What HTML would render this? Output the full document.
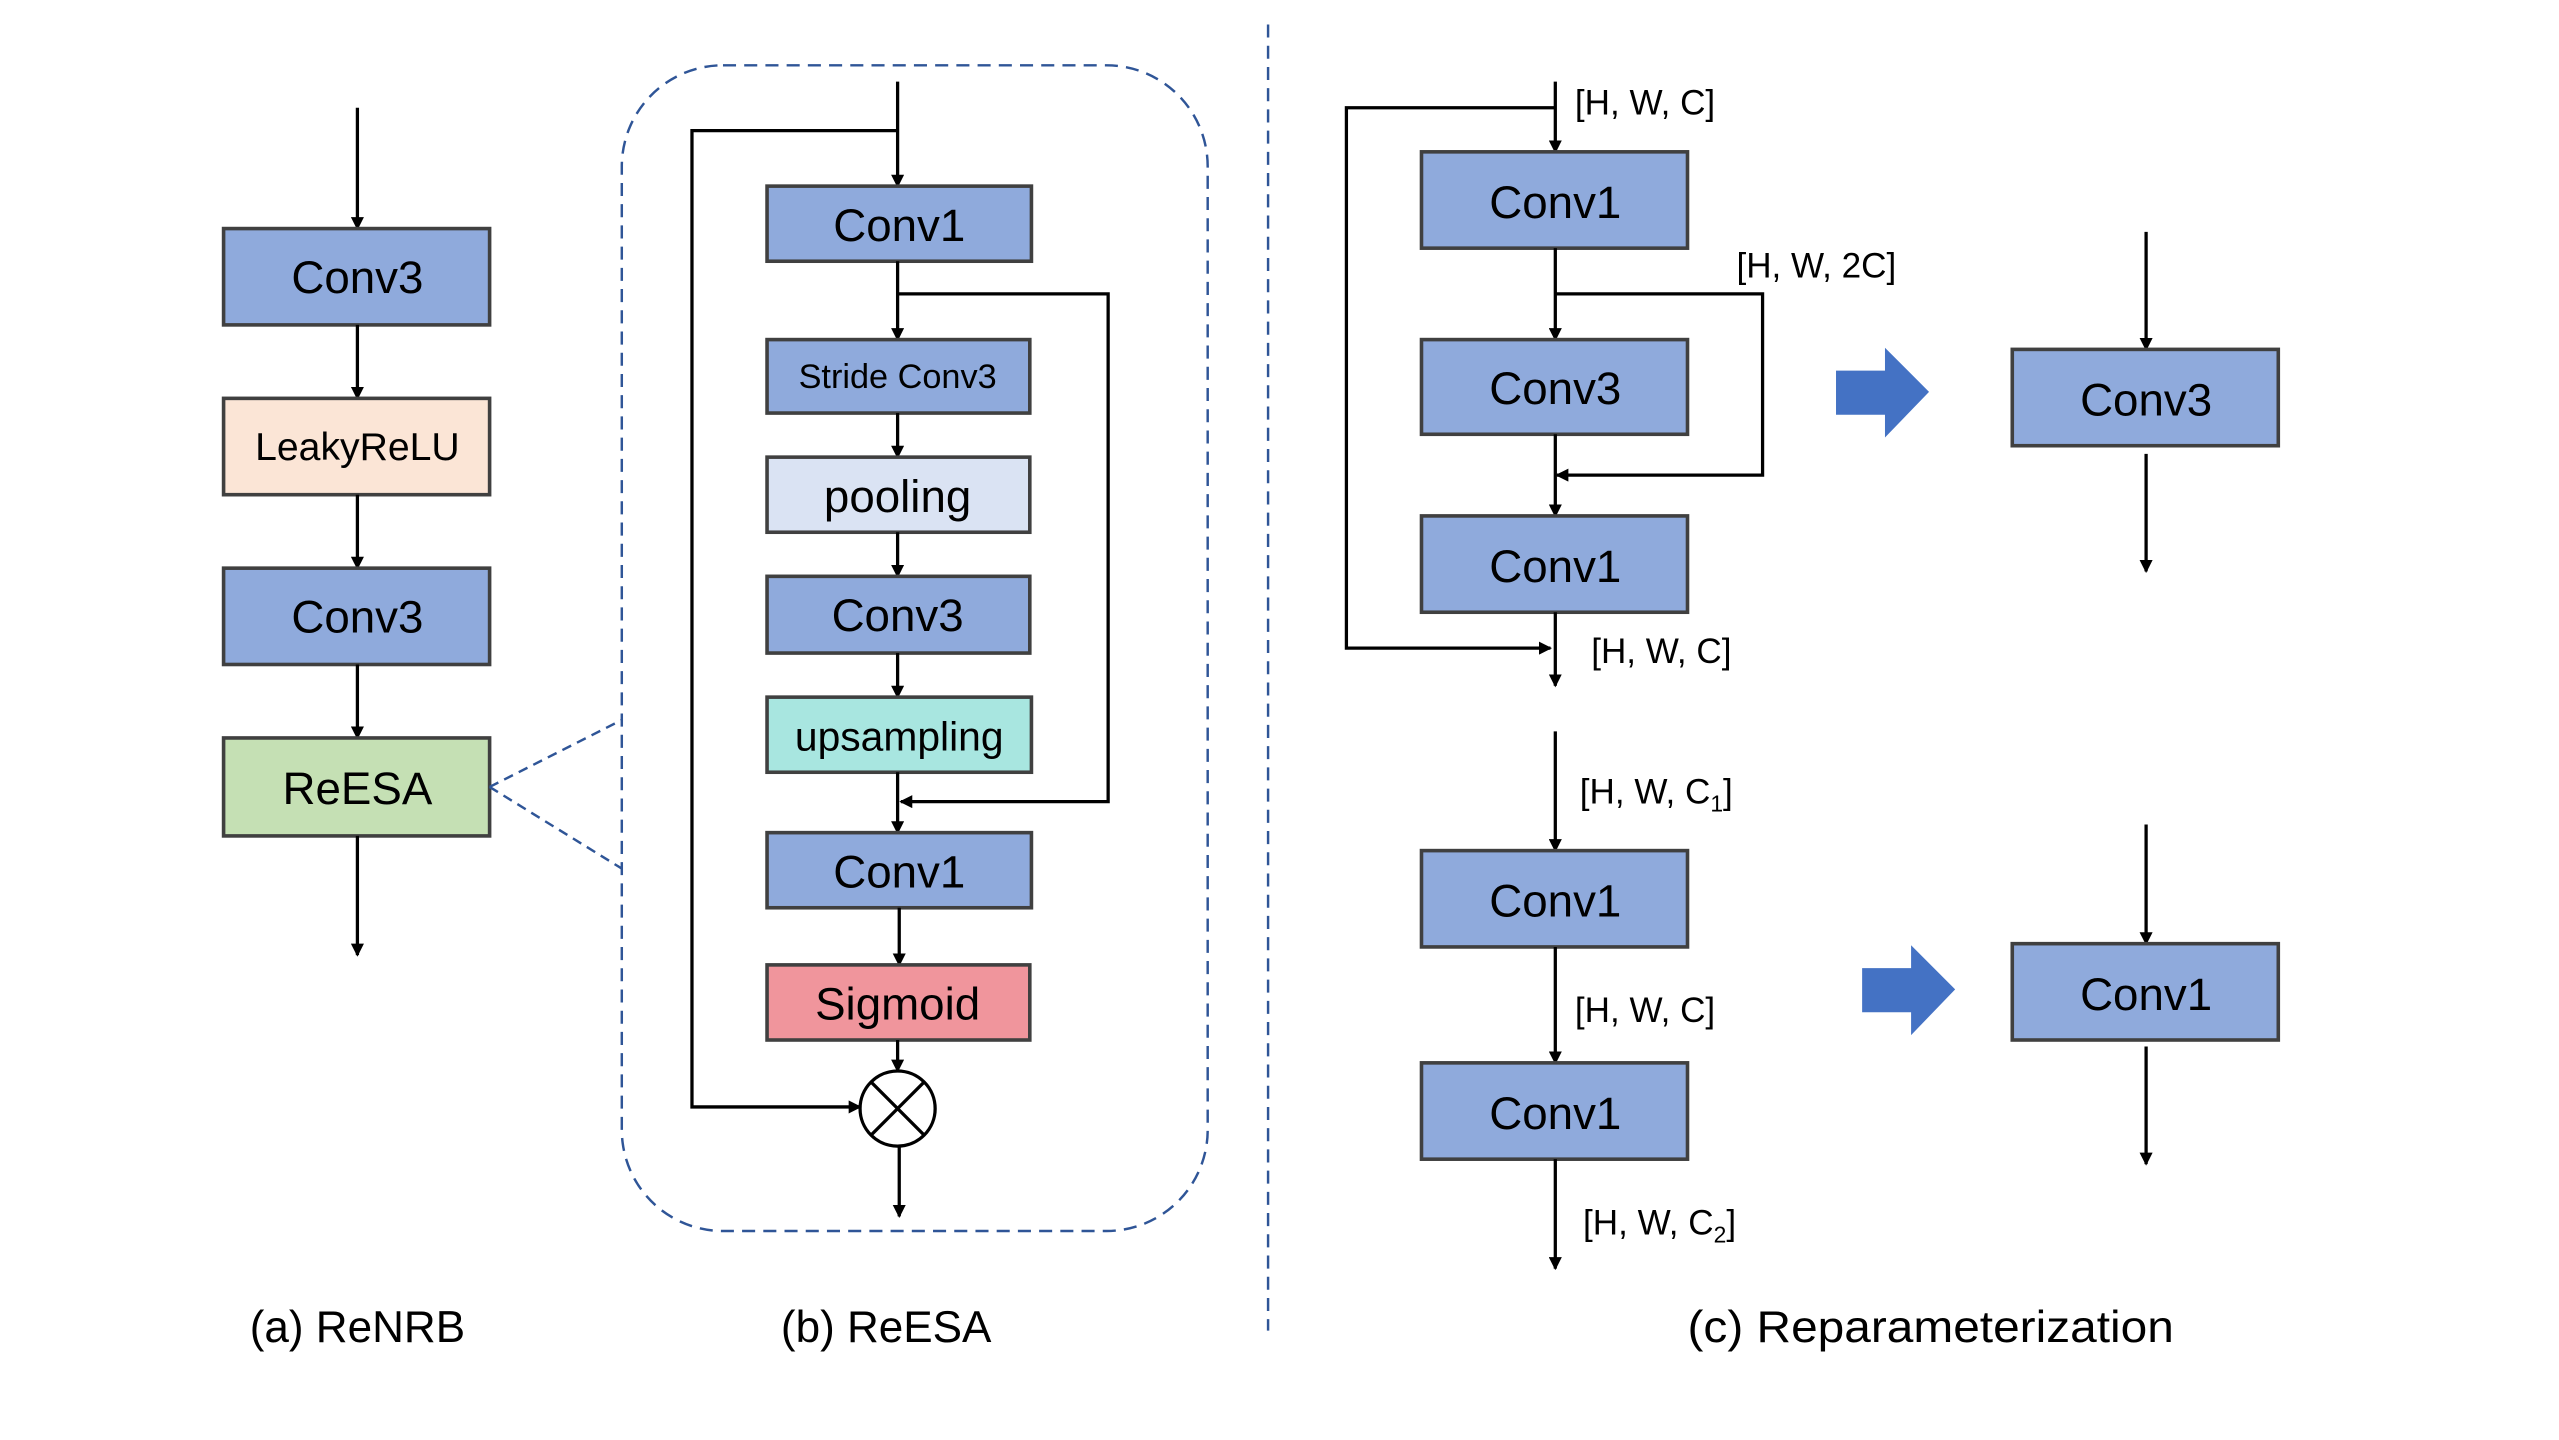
<!DOCTYPE html>
<html><head><meta charset="utf-8"><style>
html,body{margin:0;padding:0;background:#fff;}
svg{display:block;}
text{font-family:"Liberation Sans","DejaVu Sans",sans-serif;fill:#000;}
.b{stroke:#404040;stroke-width:2.2;}
.l{stroke:#000;stroke-width:2;fill:none;}
.t{font-size:28px;text-anchor:middle;dominant-baseline:central;}
.s{font-size:21.5px;}
.c{font-size:27px;text-anchor:middle;}
</style></head><body>
<svg width="2559" height="1440" viewBox="0 0 1568 882" preserveAspectRatio="none" xmlns="http://www.w3.org/2000/svg">
<defs><marker id="a" markerWidth="8" markerHeight="8" refX="7" refY="4" orient="auto" markerUnits="userSpaceOnUse"><path d="M0,0 L8,4 L0,8 z" fill="#000"/></marker></defs>
<!-- (a) -->
<line class="l" x1="219" y1="66" x2="219" y2="140" marker-end="url(#a)"/>
<rect class="b" x="137" y="140" width="163" height="59" fill="#8faadc"/><text class="t" x="219" y="170">Conv3</text>
<line class="l" x1="219" y1="199" x2="219" y2="244" marker-end="url(#a)"/>
<rect class="b" x="137" y="244" width="163" height="59" fill="#fbe5d6"/><text class="t" x="219" y="274" style="font-size:24px">LeakyReLU</text>
<line class="l" x1="219" y1="303" x2="219" y2="348" marker-end="url(#a)"/>
<rect class="b" x="137" y="348" width="163" height="59" fill="#8faadc"/><text class="t" x="219" y="378">Conv3</text>
<line class="l" x1="219" y1="407" x2="219" y2="452" marker-end="url(#a)"/>
<rect class="b" x="137" y="452" width="163" height="60" fill="#c5e0b4"/><text class="t" x="219" y="483">ReESA</text>
<line class="l" x1="219" y1="512" x2="219" y2="585" marker-end="url(#a)"/>
<text class="c" x="219" y="822">(a) ReNRB</text>
<!-- (b) -->
<rect x="381" y="40" width="359" height="714" rx="62" fill="none" stroke="#2f5597" stroke-width="1.5" stroke-dasharray="8,5"/>
<path d="M300,482 L381,441 M300,482 L381,532" stroke="#2f5597" stroke-width="1.5" stroke-dasharray="6,4" fill="none"/>
<line class="l" x1="550" y1="50" x2="550" y2="114" marker-end="url(#a)"/>
<path class="l" d="M550,80 L424,80 L424,678 L527,678" marker-end="url(#a)"/>
<rect class="b" x="470" y="114" width="162" height="46" fill="#8faadc"/><text class="t" x="551" y="138">Conv1</text>
<line class="l" x1="550" y1="160" x2="550" y2="208" marker-end="url(#a)"/>
<path class="l" d="M550,180 L679,180 L679,491 L552,491" marker-end="url(#a)"/>
<rect class="b" x="470" y="208" width="161" height="45" fill="#8faadc"/><text class="t" x="550" y="231" style="font-size:21px">Stride Conv3</text>
<line class="l" x1="550" y1="253" x2="550" y2="280" marker-end="url(#a)"/>
<rect class="b" x="470" y="280" width="161" height="46" fill="#dae3f3"/><text class="t" x="550" y="304">pooling</text>
<line class="l" x1="550" y1="326" x2="550" y2="353" marker-end="url(#a)"/>
<rect class="b" x="470" y="353" width="161" height="47" fill="#8faadc"/><text class="t" x="550" y="377">Conv3</text>
<line class="l" x1="550" y1="400" x2="550" y2="427" marker-end="url(#a)"/>
<rect class="b" x="470" y="427" width="162" height="46" fill="#a8e6e0"/><text class="t" x="551" y="451" style="font-size:25px">upsampling</text>
<line class="l" x1="550" y1="473" x2="550" y2="510" marker-end="url(#a)"/>
<rect class="b" x="470" y="510" width="162" height="46" fill="#8faadc"/><text class="t" x="551" y="534">Conv1</text>
<line class="l" x1="551" y1="556" x2="551" y2="591" marker-end="url(#a)"/>
<rect class="b" x="470" y="591" width="161" height="46" fill="#f0959c"/><text class="t" x="550" y="615">Sigmoid</text>
<line class="l" x1="550" y1="637" x2="550" y2="656" marker-end="url(#a)"/>
<circle cx="550" cy="679" r="23" fill="#fff" stroke="#000" stroke-width="2"/>
<path class="l" d="M534,663 L566,695 M566,663 L534,695"/>
<line class="l" x1="551" y1="702" x2="551" y2="745" marker-end="url(#a)"/>
<text class="c" x="543" y="822">(b) ReESA</text>
<!-- divider -->
<line x1="777" y1="15" x2="777" y2="815" stroke="#2f5597" stroke-width="1.5" stroke-dasharray="8,5"/>
<!-- (c) top -->
<line class="l" x1="953" y1="50" x2="953" y2="93" marker-end="url(#a)"/>
<path class="l" d="M953,66 L825,66 L825,397 L950,397" marker-end="url(#a)"/>
<text class="s" x="965" y="70">[H, W, C]</text>
<rect class="b" x="871" y="93" width="163" height="59" fill="#8faadc"/><text class="t" x="953" y="124">Conv1</text>
<line class="l" x1="953" y1="152" x2="953" y2="208" marker-end="url(#a)"/>
<path class="l" d="M953,180 L1080,180 L1080,291 L954,291" marker-end="url(#a)"/>
<text class="s" x="1064" y="170">[H, W, 2C]</text>
<rect class="b" x="871" y="208" width="163" height="58" fill="#8faadc"/><text class="t" x="953" y="238">Conv3</text>
<line class="l" x1="953" y1="266" x2="953" y2="316" marker-end="url(#a)"/>
<rect class="b" x="871" y="316" width="163" height="59" fill="#8faadc"/><text class="t" x="953" y="347">Conv1</text>
<line class="l" x1="953" y1="375" x2="953" y2="420" marker-end="url(#a)"/>
<text class="s" x="975" y="406">[H, W, C]</text>
<path d="M1125,227 L1155,227 L1155,213 L1182,240 L1155,268 L1155,254 L1125,254 z" fill="#4472c4"/>
<line class="l" x1="1315" y1="142" x2="1315" y2="214" marker-end="url(#a)"/>
<rect class="b" x="1233" y="214" width="163" height="59" fill="#8faadc"/><text class="t" x="1315" y="245">Conv3</text>
<line class="l" x1="1315" y1="278" x2="1315" y2="350" marker-end="url(#a)"/>
<!-- (c) bottom -->
<line class="l" x1="953" y1="448" x2="953" y2="521" marker-end="url(#a)"/>
<text class="s" x="968" y="492">[H, W, C<tspan dy="5" font-size="14">1</tspan><tspan dy="-5">]</tspan></text>
<rect class="b" x="871" y="521" width="163" height="59" fill="#8faadc"/><text class="t" x="953" y="552">Conv1</text>
<line class="l" x1="953" y1="580" x2="953" y2="651" marker-end="url(#a)"/>
<text class="s" x="965" y="626">[H, W, C]</text>
<rect class="b" x="871" y="651" width="163" height="59" fill="#8faadc"/><text class="t" x="953" y="682">Conv1</text>
<line class="l" x1="953" y1="710" x2="953" y2="777" marker-end="url(#a)"/>
<text class="s" x="970" y="756">[H, W, C<tspan dy="5" font-size="14">2</tspan><tspan dy="-5">]</tspan></text>
<path d="M1141,593 L1171,593 L1171,579 L1198,606 L1171,634 L1171,620 L1141,620 z" fill="#4472c4"/>
<line class="l" x1="1315" y1="505" x2="1315" y2="578" marker-end="url(#a)"/>
<rect class="b" x="1233" y="578" width="163" height="59" fill="#8faadc"/><text class="t" x="1315" y="609">Conv1</text>
<line class="l" x1="1315" y1="641" x2="1315" y2="713" marker-end="url(#a)"/>
<text class="c" x="1183" y="822" textLength="298" lengthAdjust="spacingAndGlyphs">(c) Reparameterization</text>
</svg>
</body></html>
